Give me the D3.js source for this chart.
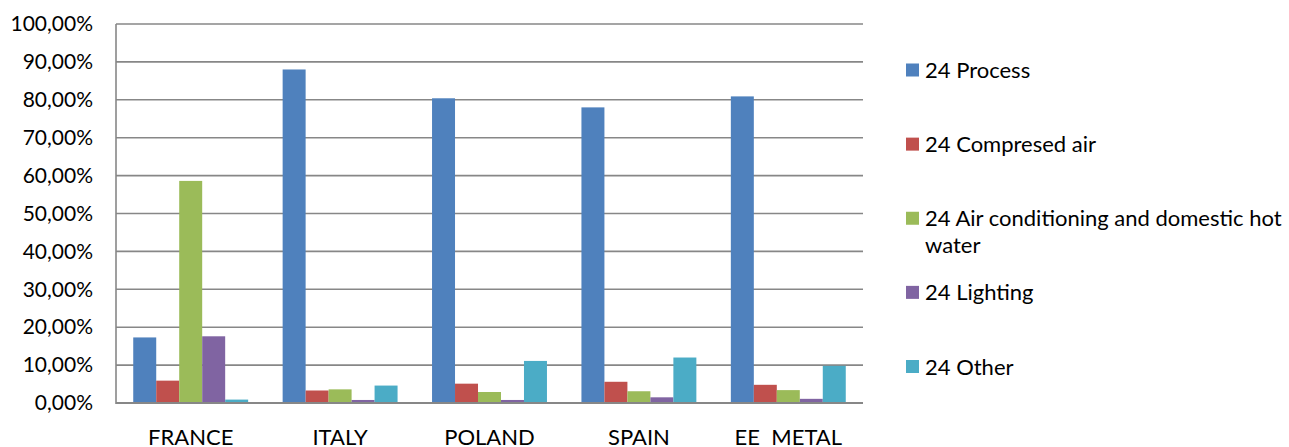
<!DOCTYPE html>
<html>
<head>
<meta charset="utf-8">
<script src="https://cdn.jsdelivr.net/npm/d3@7/dist/d3.min.js"></script>
<style>
  html, body { margin: 0; padding: 0; background: #fff; }
  svg { display: block; font-family: Lato, "Open Sans", sans-serif; }
  text { white-space: pre; }
</style>
</head>
<body>
<svg id="chart" width="1289" height="447"></svg>
<script>
// Categories along the x axis
const categories = ["FRANCE", "ITALY", "POLAND", "SPAIN", "EE  METAL"];

// Series names (legend) and colours
const seriesNames = [
  "24 Process",
  "24 Compresed air",
  "24 Air conditioning and domestic hot water",
  "24 Lighting",
  "24 Other"
];
const seriesColors = ["#4F81BD", "#C0504D", "#9BBB59", "#8064A2", "#4BACC6"];

// Shares per category, one array per series (fractions of 1)
const process      = [0.173, 0.880, 0.804, 0.780, 0.809];
const compressed   = [0.059, 0.033, 0.051, 0.056, 0.048];
const airCond      = [0.586, 0.036, 0.029, 0.031, 0.034];
const lighting     = [0.176, 0.008, 0.008, 0.015, 0.011];
const other        = [0.009, 0.046, 0.111, 0.120, 0.098];
const seriesValues = [process, compressed, airCond, lighting, other];

// Y axis tick values
const yTicks = [0, 0.1, 0.2, 0.3, 0.4, 0.5, 0.6, 0.7, 0.8, 0.9, 1.0];

const svg = d3.select("#chart");
const plot = { left: 116, right: 863, top: 24, bottom: 403 };

const locale = d3.formatLocale({ decimal: ",", thousands: ".", grouping: [3], currency: ["", "€"] });
const pct = locale.format(".2%");

const y = d3.scaleLinear().domain([0, 1]).range([plot.bottom, plot.top]);
const x0 = d3.scaleBand().domain(categories).range([plot.left, plot.right]).paddingInner(0).paddingOuter(0);
const x1 = d3.scaleBand().domain(d3.range(seriesNames.length)).range([0, x0.bandwidth()])
  .paddingInner(0).paddingOuter(0.75);

// Horizontal gridlines
svg.append("g")
  .selectAll("line")
  .data(yTicks.filter(d => d > 0))
  .join("line")
  .attr("x1", plot.left).attr("x2", plot.right)
  .attr("y1", d => y(d)).attr("y2", d => y(d))
  .attr("stroke", "#878787").attr("stroke-width", 1.6);

// Y axis labels
const yAxis = d3.axisLeft(y).tickValues(yTicks).tickFormat(pct).tickSize(0).tickPadding(23);
const gy = svg.append("g").attr("transform", `translate(${plot.left},0)`).call(yAxis);
gy.select(".domain").remove();
gy.selectAll("text")
  .attr("font-family", "Lato, sans-serif")
  .attr("font-size", 21)
  .attr("fill", "#000");

// Bars
const groups = svg.append("g")
  .selectAll("g")
  .data(categories)
  .join("g")
  .attr("transform", d => `translate(${x0(d)},0)`);

groups.selectAll("rect")
  .data((c, ci) => seriesValues.map((vals, si) => ({ si, v: vals[ci] })))
  .join("rect")
  .attr("x", d => x1(d.si))
  .attr("width", x1.bandwidth())
  .attr("y", d => y(d.v))
  .attr("height", d => y(0) - y(d.v))
  .attr("fill", d => seriesColors[d.si]);

// Axis lines (left and baseline)
svg.append("line")
  .attr("x1", plot.left).attr("x2", plot.left)
  .attr("y1", plot.top).attr("y2", plot.bottom + 1)
  .attr("stroke", "#878787").attr("stroke-width", 1.6);
svg.append("line")
  .attr("x1", plot.left).attr("x2", plot.right)
  .attr("y1", plot.bottom).attr("y2", plot.bottom)
  .attr("stroke", "#878787").attr("stroke-width", 2);

// Category labels
const xAxis = d3.axisBottom(x0).tickSize(0).tickPadding(26);
const gx = svg.append("g").attr("transform", `translate(0,${plot.bottom})`).call(xAxis);
gx.select(".domain").remove();
gx.selectAll("text")
  .attr("font-family", "Lato, sans-serif")
  .attr("font-size", 22)
  .attr("fill", "#000");

// Legend
const legendLines = [
  ["24 Process"],
  ["24 Compresed air"],
  ["24 Air conditioning and domestic hot", "water"],
  ["24 Lighting"],
  ["24 Other"]
];
const legend = svg.append("g").attr("transform", "translate(906,0)");
const rowY = d3.scalePoint().domain(d3.range(seriesNames.length)).range([70, 366.5]);
const item = legend.selectAll("g")
  .data(seriesNames)
  .join("g")
  .attr("transform", (d, i) => `translate(0,${rowY(i)})`);
item.append("rect")
  .attr("x", 0).attr("y", -6.5)
  .attr("width", 13).attr("height", 13)
  .attr("fill", (d, i) => seriesColors[i]);
item.append("text")
  .attr("x", 19)
  .attr("font-family", "Lato, sans-serif")
  .attr("font-size", 22)
  .attr("fill", "#000")
  .selectAll("tspan")
  .data((d, i) => legendLines[i])
  .join("tspan")
  .attr("x", 19)
  .attr("y", (d, j) => 8 + j * 27)
  .text(d => d);
</script>
</body>
</html>
